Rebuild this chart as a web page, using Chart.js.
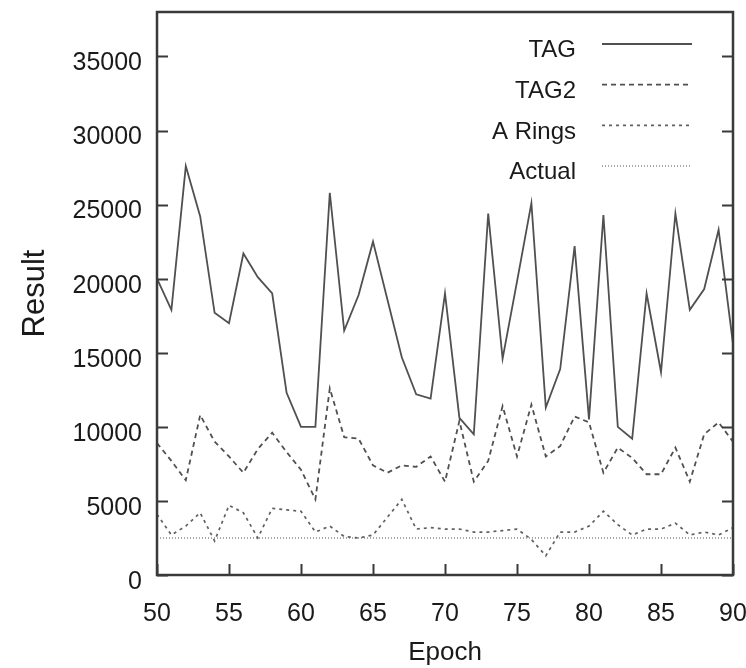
<!DOCTYPE html>
<html>
<head>
<meta charset="utf-8">
<script src="https://cdn.jsdelivr.net/npm/chart.js@4.4.0/dist/chart.umd.min.js"></script>
<style>
    html, body { margin: 0; padding: 0; background: #ffffff; }
    #grafico { display: block; }
</style>
</head>
<body>
<canvas id="grafico" width="746" height="668"></canvas>
<script>
const epocas = [50, 51, 52, 53, 54, 55, 56, 57, 58, 59, 60, 61, 62, 63, 64, 65, 66, 67, 68, 69, 70,
    71, 72, 73, 74, 75, 76, 77, 78, 79, 80, 81, 82, 83, 84, 85, 86, 87, 88, 89, 90];

const valoresTag = [20000, 17900, 27600, 24200, 17700, 17000, 21700, 20100, 19000, 12300, 10000,
    10000, 25800, 16500, 18900, 22500, 18600, 14700, 12200, 11900, 19000,
    10600, 9500, 24400, 14600, 19800, 25100, 11300, 13900, 22200, 10500,
    24300, 10000, 9200, 19000, 13700, 24400, 17900, 19300, 23300, 15600];

const valoresTag2 = [8900, 7700, 6400, 10800, 9000, 8000, 6900, 8500, 9600, 8300, 7100,
    5100, 12600, 9300, 9200, 7400, 6900, 7400, 7300, 8000, 6300,
    10400, 6300, 7700, 11400, 8000, 11500, 8000, 8700, 10700, 10300,
    6900, 8600, 7900, 6800, 6800, 8600, 6300, 9500, 10300, 9000];

const valoresARings = [4100, 2700, 3300, 4200, 2300, 4700, 4200, 2500, 4500, 4400, 4300,
    2900, 3300, 2600, 2500, 2700, 3900, 5100, 3100, 3200, 3100,
    3100, 2900, 2900, 3000, 3100, 2400, 1300, 2900, 2900, 3300,
    4300, 3400, 2700, 3100, 3100, 3500, 2700, 2900, 2700, 3200];

const epocasActual = [50, 90];
const valoresActual = [2500, 2500];

const ticksX = [50, 55, 60, 65, 70, 75, 80, 85, 90];
const ticksY = [0, 5000, 10000, 15000, 20000, 25000, 30000, 35000];

function montarPontos(xs, ys) {
    return xs.map((x, i) => ({ x: x, y: ys[i] }));
}

const fonte = "'Liberation Sans', Arial, sans-serif";

// moldura em volta do grafico, com os ticks para dentro
const molduraPlugin = {
    id: "moldura",
    afterDatasetsDraw(chart) {
        const { ctx, chartArea, scales } = chart;
        const { left, right, top, bottom } = chartArea;
        const tam = 11;

        ctx.save();
        ctx.strokeStyle = "#3a3a3a";
        ctx.lineWidth = 2;
        ctx.beginPath();
        scales.y.ticks.forEach((t) => {
            const y = Math.round(scales.y.getPixelForValue(t.value)) + 0.5;
            ctx.moveTo(left, y);
            ctx.lineTo(left + tam, y);
            ctx.moveTo(right, y);
            ctx.lineTo(right - tam, y);
        });
        scales.x.ticks.forEach((t) => {
            const x = Math.round(scales.x.getPixelForValue(t.value)) + 0.5;
            ctx.moveTo(x, bottom);
            ctx.lineTo(x, bottom - tam);
        });
        ctx.stroke();

        ctx.lineWidth = 2.5;
        ctx.strokeRect(left, top, right - left, bottom - top);
        ctx.restore();
    }
};

// legenda no canto superior direito: texto a esquerda, amostra da linha a direita
const legendaPlugin = {
    id: "legendaDireita",
    afterDraw(chart, args, opts) {
        const ctx = chart.ctx;
        ctx.save();
        ctx.font = "24px " + fonte;
        ctx.textAlign = "right";
        ctx.textBaseline = "middle";

        chart.data.datasets.forEach((ds, i) => {
            const y = opts.y0 + i * opts.passo;
            ctx.fillStyle = "#1a1a1a";
            ctx.fillText(ds.label, opts.xTexto, y + 6.5);

            ctx.strokeStyle = ds.borderColor;
            ctx.lineWidth = ds.borderWidth;
            ctx.setLineDash(ds.borderDash || []);
            ctx.beginPath();
            ctx.moveTo(opts.xIni, y);
            ctx.lineTo(opts.xFim, y);
            ctx.stroke();
        });
        ctx.restore();
    }
};

const ctx = document.getElementById("grafico").getContext("2d");

new Chart(ctx, {
    type: "line",
    data: {
        datasets: [
            {
                label: "TAG",
                data: montarPontos(epocas, valoresTag),
                borderColor: "#505050",
                borderWidth: 1.8,
                borderDash: []
            },
            {
                label: "TAG2",
                data: montarPontos(epocas, valoresTag2),
                borderColor: "#505050",
                borderWidth: 1.8,
                borderDash: [5, 4]
            },
            {
                label: "A Rings",
                data: montarPontos(epocas, valoresARings),
                borderColor: "#606060",
                borderWidth: 1.7,
                borderDash: [3, 4]
            },
            {
                label: "Actual",
                data: montarPontos(epocasActual, valoresActual),
                borderColor: "#8a8a8a",
                borderWidth: 1.5,
                borderDash: [1, 2]
            }
        ]
    },
    options: {
        responsive: false,
        animation: false,
        devicePixelRatio: 1,
        layout: {
            padding: { top: 12, right: 13, left: 0, bottom: 0 }
        },
        elements: {
            point: { radius: 0 },
            line: { tension: 0 }
        },
        scales: {
            x: {
                type: "linear",
                min: 50,
                max: 90,
                grid: { display: false, drawTicks: false },
                border: { display: false },
                ticks: {
                    autoSkip: false,
                    padding: 24,
                    color: "#1a1a1a",
                    font: { size: 25, family: fonte },
                    callback: (valor) => String(valor)
                },
                afterBuildTicks: (scale) => {
                    scale.ticks = ticksX.map((v) => ({ value: v }));
                },
                title: {
                    display: true,
                    text: "Epoch",
                    color: "#1a1a1a",
                    padding: { top: 0, bottom: 0 },
                    font: { size: 26, family: fonte }
                },
                afterFit: (scale) => {
                    scale.height = 93;
                    scale.paddingLeft = 0;
                    scale.paddingRight = 0;
                }
            },
            y: {
                type: "linear",
                min: 0,
                max: 38000,
                grid: { display: false, drawTicks: false },
                border: { display: false },
                ticks: {
                    autoSkip: false,
                    padding: 15,
                    labelOffset: 7,
                    color: "#1a1a1a",
                    font: { size: 25, family: fonte },
                    callback: (valor) => String(valor)
                },
                afterBuildTicks: (scale) => {
                    scale.ticks = ticksY.map((v) => ({ value: v }));
                },
                title: {
                    display: true,
                    text: "Result",
                    color: "#1a1a1a",
                    padding: { top: 17, bottom: 0 },
                    font: { size: 31, family: fonte }
                },
                afterFit: (scale) => {
                    scale.width = 157;
                    scale.paddingTop = 0;
                    scale.paddingBottom = 0;
                }
            }
        },
        plugins: {
            legend: { display: false },
            tooltip: { enabled: false },
            legendaDireita: {
                xTexto: 576,
                xIni: 602,
                xFim: 692,
                y0: 44,
                passo: 40.7
            }
        }
    },
    plugins: [molduraPlugin, legendaPlugin]
});
</script>
</body>
</html>
